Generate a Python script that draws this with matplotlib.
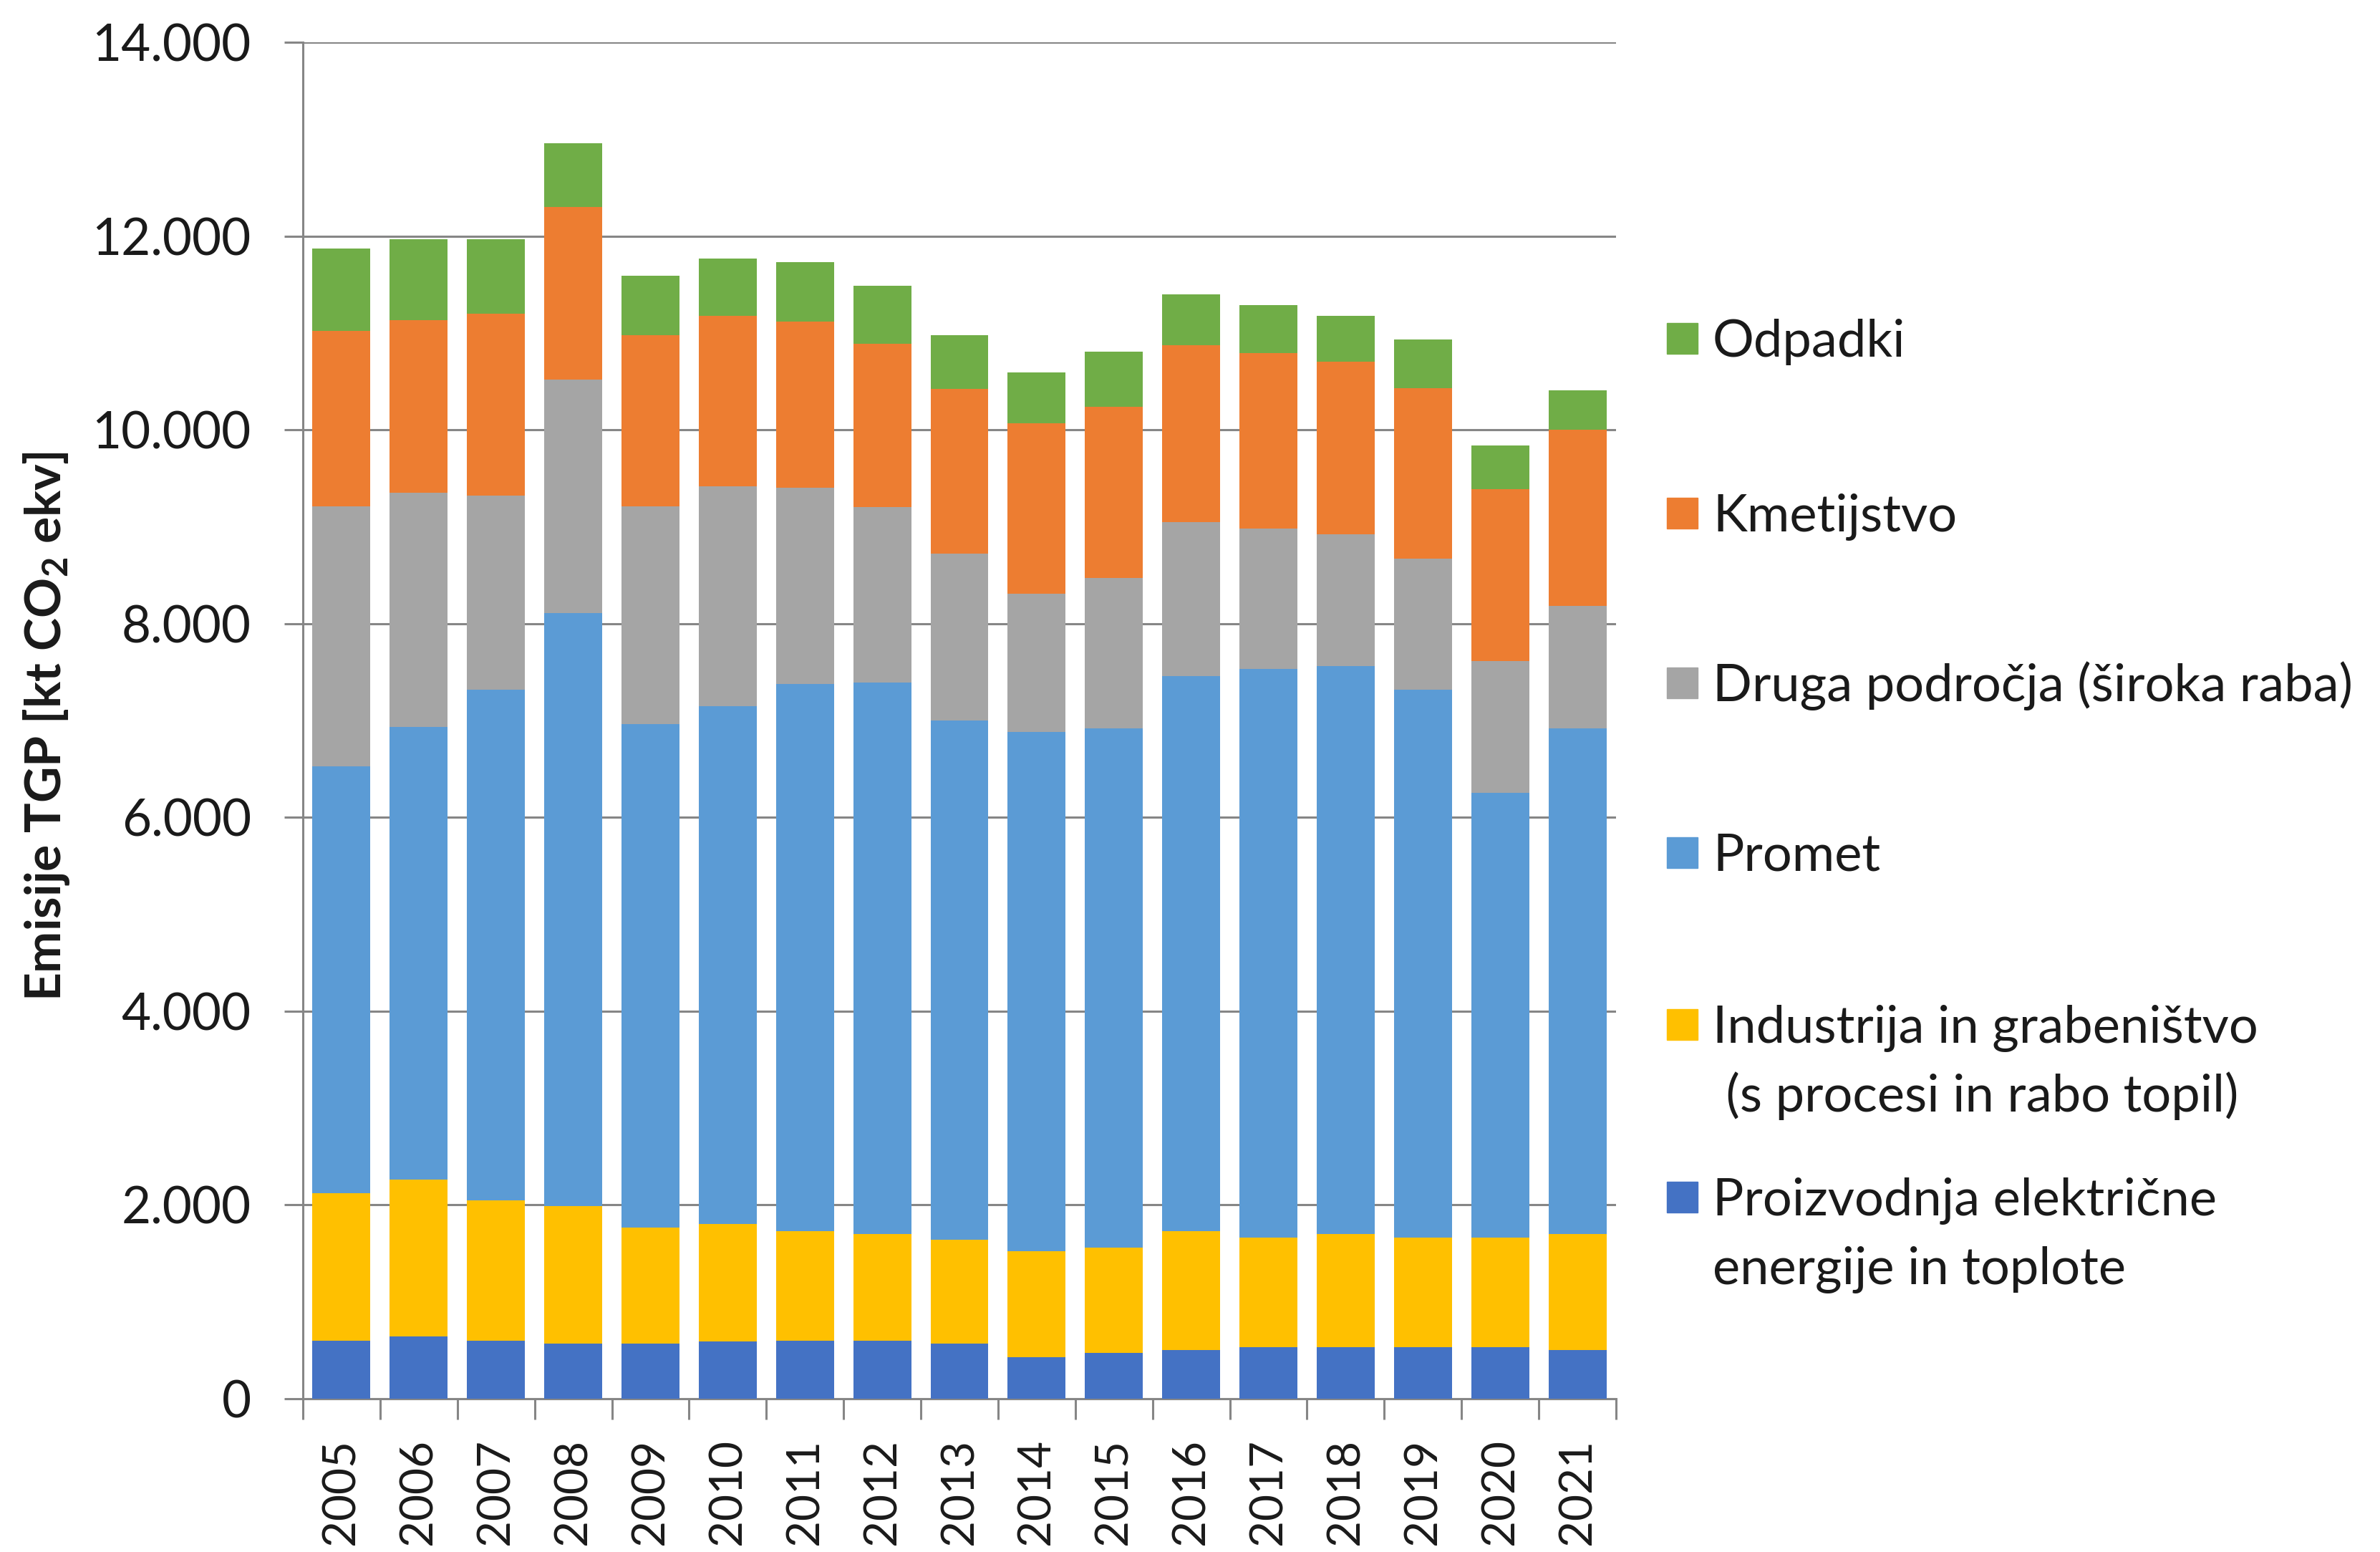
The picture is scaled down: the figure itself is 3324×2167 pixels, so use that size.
import numpy as np
import matplotlib.pyplot as plt
from matplotlib.patches import Rectangle
from matplotlib.ticker import MultipleLocator, FuncFormatter

plt.rcParams['font.family'] = ['Lato', 'DejaVu Sans']
plt.rcParams['mathtext.default'] = 'regular'

# --- podatki (kt CO2 ekv) ---
leta = ['2005', '2006', '2007', '2008', '2009', '2010', '2011', '2012', '2013',
        '2014', '2015', '2016', '2017', '2018', '2019', '2020', '2021']

proizvodnja = [600, 640, 600, 570, 570, 590, 600, 600, 570, 430, 470, 500, 530, 530, 530, 530, 500]
industrija = [1520, 1620, 1450, 1420, 1200, 1210, 1130, 1100, 1070, 1090, 1090, 1230, 1130, 1170, 1130, 1130, 1200]
promet = [4410, 4670, 5270, 6120, 5190, 5350, 5650, 5690, 5360, 5360, 5360, 5730, 5870, 5860, 5660, 4590, 5220]
druga = [2680, 2420, 2000, 2410, 2250, 2270, 2020, 1810, 1720, 1430, 1550, 1590, 1450, 1360, 1350, 1360, 1260]
kmetijstvo = [1810, 1780, 1880, 1780, 1770, 1760, 1720, 1690, 1700, 1760, 1770, 1820, 1810, 1780, 1760, 1780, 1820]
odpadki = [850, 840, 770, 660, 610, 590, 610, 600, 560, 520, 570, 530, 500, 480, 500, 450, 410]

serije = [proizvodnja, industrija, promet, druga, kmetijstvo, odpadki]
imena = ['Proizvodnja električne\nenergije in toplote',
         'Industrija in grabeništvo\n (s procesi in rabo topil)',
         'Promet',
         'Druga področja (široka raba)',
         'Kmetijstvo',
         'Odpadki']
barve = ['#4472C4', '#FFC000', '#5B9BD5', '#A5A5A5', '#ED7D31', '#70AD47']

W, H = 3324, 2167
siva = '#868686'
tekst = '#1a1a1a'

fig = plt.figure(figsize=(W / 100, H / 100), dpi=100)
ax = fig.add_axes([423 / W, 1 - 1953 / H, (2257 - 423) / W, (1953 - 59) / H])

x = np.arange(len(leta))
spodaj = np.zeros(len(leta))
for vrednosti, barva in zip(serije, barve):
    ax.bar(x, vrednosti, 0.75, bottom=spodaj, color=barva, zorder=3)
    spodaj += np.array(vrednosti)

ax.set_xlim(-0.5, len(leta) - 0.5)
ax.set_ylim(0, 14000)
ax.yaxis.set_major_locator(MultipleLocator(2000))
ax.yaxis.set_major_formatter(FuncFormatter(lambda v, p: f"{int(v):,}".replace(",", ".")))
ax.grid(axis='y', color=siva, linewidth=2.2, zorder=0)
ax.set_axisbelow(True)

for s in ['top', 'right']:
    ax.spines[s].set_visible(False)
for s in ['left', 'bottom']:
    ax.spines[s].set_color(siva)
    ax.spines[s].set_linewidth(2.2)

ax.set_xticks(x)
ax.set_xticklabels(leta, rotation=90, fontsize=46, color=tekst)
ax.tick_params(axis='x', which='major', length=0, pad=40)
ax.set_xticks(np.arange(-0.5, len(leta)), minor=True)
ax.tick_params(axis='x', which='minor', length=21, width=2.2, color=siva)
ax.tick_params(axis='y', length=19, width=2.2, color=siva, labelsize=51,
               pad=33, labelcolor=tekst)

ax.set_ylabel('Emisije TGP [kt CO$_2$ ekv]', fontsize=50, fontweight='bold', color=tekst)
ax.yaxis.set_label_coords(-0.176, 0.496)

# legenda (od zgoraj navzdol)
leg_y = [473, 717, 954, 1191, 1431, 1672]
for ime, barva, yp in zip(imena[::-1], barve[::-1], leg_y):
    fig.patches.append(Rectangle((2328 / W, 1 - (yp + 21) / H), 43 / W, 43 / H,
                                 transform=fig.transFigure, color=barva))
    for k, vrstica in enumerate(ime.split('\n')):
        fig.text(2392 / W, 1 - (yp + 25 + k * 96) / H, vrstica, fontsize=52,
                 ha='left', va='baseline', color=tekst)

fig.savefig('out.png', dpi=100)
